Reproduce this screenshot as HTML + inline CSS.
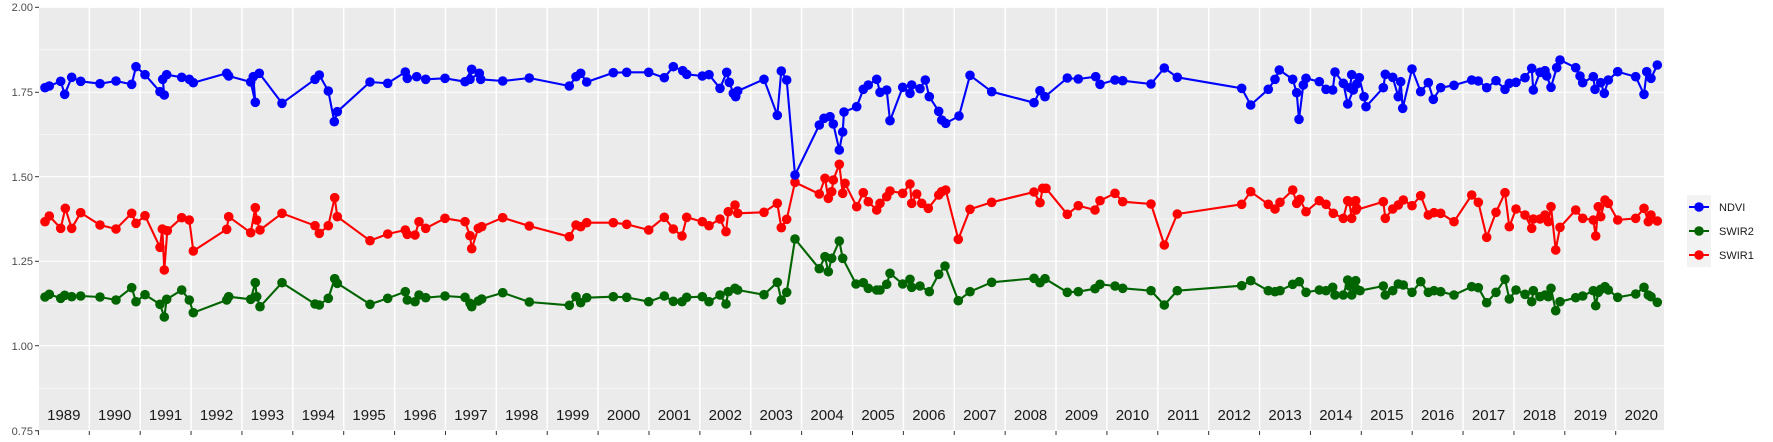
<!DOCTYPE html>
<html><head><meta charset="utf-8"><style>
html,body{margin:0;padding:0;background:#fff;}
svg{display:block;font-family:"Liberation Sans",sans-serif;}
</style></head><body>
<svg id="s" width="1773" height="442" viewBox="0 0 1773 442" xmlns="http://www.w3.org/2000/svg">
<rect x="39" y="7" width="1625" height="424" fill="#ebebeb"/>
<g id="grid"></g>
<g font-size="11" fill="#4d4d4d" text-anchor="end">
<text x="33" y="11">2.00</text>
<text x="33" y="96">1.75</text>
<text x="33" y="181">1.50</text>
<text x="33" y="265">1.25</text>
<text x="33" y="350">1.00</text>
<text x="33" y="435">0.75</text>
</g>
<g font-size="15" fill="#1a1a1a" text-anchor="middle" id="years">
<text x="63.8" y="420">1989</text><text x="114.7" y="420">1990</text><text x="165.6" y="420">1991</text><text x="216.5" y="420">1992</text><text x="267.4" y="420">1993</text><text x="318.3" y="420">1994</text><text x="369.1" y="420">1995</text><text x="420.0" y="420">1996</text><text x="470.9" y="420">1997</text><text x="521.8" y="420">1998</text><text x="572.7" y="420">1999</text><text x="623.6" y="420">2000</text><text x="674.4" y="420">2001</text><text x="725.3" y="420">2002</text><text x="776.2" y="420">2003</text><text x="827.1" y="420">2004</text><text x="878.0" y="420">2005</text><text x="928.9" y="420">2006</text><text x="979.8" y="420">2007</text><text x="1030.6" y="420">2008</text><text x="1081.5" y="420">2009</text><text x="1132.4" y="420">2010</text><text x="1183.3" y="420">2011</text><text x="1234.2" y="420">2012</text><text x="1285.1" y="420">2013</text><text x="1335.9" y="420">2014</text><text x="1386.8" y="420">2015</text><text x="1437.7" y="420">2016</text><text x="1488.6" y="420">2017</text><text x="1539.5" y="420">2018</text><text x="1590.4" y="420">2019</text><text x="1641.3" y="420">2020</text>
</g>
<g id="data"></g>
<rect x="1680" y="190" width="38" height="80" fill="#fff"/>
<rect x="1687" y="195" width="24" height="72" fill="#f2f2f2"/>
<line x1="1689" y1="207" x2="1709" y2="207" stroke="#0000ff" stroke-width="2"/><circle cx="1699" cy="207" r="4.8" fill="#0000ff"/>
<line x1="1689" y1="231" x2="1709" y2="231" stroke="#006400" stroke-width="2"/><circle cx="1699" cy="231" r="4.8" fill="#006400"/>
<line x1="1689" y1="255" x2="1709" y2="255" stroke="#ff0000" stroke-width="2"/><circle cx="1699" cy="255" r="4.8" fill="#ff0000"/>
<g font-size="11" fill="#1a1a1a">
<text x="1719" y="211">NDVI</text>
<text x="1719" y="235">SWIR2</text>
<text x="1719" y="259">SWIR1</text>
</g>
</svg>
<script>
var NS="http://www.w3.org/2000/svg";
function el(t,a,p){var e=document.createElementNS(NS,t);for(var k in a)e.setAttribute(k,a[k]);p.appendChild(e);return e;}
var g=document.getElementById('grid');
var ys=[7.3,92.3,176.7,261.3,345.7,430.7];
for(var i=0;i<ys.length-1;i++){var m=(ys[i]+ys[i+1])/2;el('line',{x1:39,x2:1664,y1:m,y2:m,stroke:'#fff','stroke-width':0.6},g);}
ys.forEach(function(y){el('line',{x1:39,x2:1664,y1:y,y2:y,stroke:'#fff','stroke-width':1.2},g);el('line',{x1:35,x2:39,y1:y,y2:y,stroke:'#333','stroke-width':1},g);});
for(var yr=1989;yr<=2020;yr++){var x=89.3+(yr-1990)*50.88;if(yr>1989)el('line',{x1:x,x2:x,y1:7,y2:431,stroke:'#fff','stroke-width':1.5},g);el('line',{x1:x,x2:x,y1:431,y2:435,stroke:'#333','stroke-width':1},g);}
var Z={
b:[[30,[[45,143],[58,138],[92,124],[104,163],[125,112],[152,124],[210,131],[258,123],[305,133],[318,80],[345,104],[390,155],[403,165],[398,118],[410,104],[455,112],[478,118],[490,128],[590,100],[596,108],[662,126],[676,187],[670,110],[688,100],[756,190]]],
[300,[[45,118],[58,105],[85,153],[103,245],[112,215],[210,126],[263,130],[316,96],[322,115],[350,110],[377,118],[435,115],[495,125],[515,88],[510,118],[538,100],[542,118],[608,123],[688,114],[808,138]]],
[570,[[18,110],[32,100],[50,126],[130,98],[170,97],[236,97],[283,113],[310,80],[338,92],[350,103],[397,108],[417,104],[450,145],[470,97],[478,127],[490,160],[497,170],[503,153],[582,118],[622,226],[634,93],[650,120],[675,405],[748,255],[762,235],[780,230],[790,252],[808,330]]],
[840,[[8,276],[12,216],[50,200],[70,148],[85,135],[110,118],[120,157],[140,150],[150,242],[188,142],[210,160],[215,135],[240,146],[256,120],[268,170],[296,214],[305,240],[317,250],[357,228],[390,106],[455,155],[582,188],[600,152],[615,170],[682,114],[715,117],[767,110],[780,133]]],
[1110,[[15,120],[38,122],[123,132],[163,84],[202,112],[395,145],[422,195],[475,148],[495,118],[508,90],[548,118],[560,158],[567,238],[580,135],[588,115],[628,125],[648,148],[668,150],[675,96],[700,130],[713,192],[730,150],[740,132]]],
[1380,[[-90,143],[-85,104],[-62,113],[-48,170],[-42,200],[10,143],[16,103],[38,112],[55,170],[62,125],[68,205],[96,87],[122,155],[145,128],[160,178],[182,143],[222,136],[275,120],[295,123],[320,143],[348,122],[375,148],[388,130],[408,127],[435,113],[455,85],[460,150],[480,97],[495,92],[500,108],[513,142],[530,83],[540,60],[587,83],[600,108],[608,128],[640,110],[645,148],[662,128],[673,160],[685,120],[713,95],[767,110],[792,163],[800,95],[813,115],[832,75]]]],
r:[[30,[[45,545],[58,528],[92,565],[106,505],[125,565],[152,518],[210,555],[258,567],[305,520],[318,550],[345,527],[390,622],[397,567],[403,690],[412,572],[455,533],[478,540],[490,633],[590,568],[596,530],[662,578],[676,503],[680,540],[690,570],[756,520]]],
[300,[[45,557],[58,580],[85,557],[104,473],[112,530],[210,602],[263,582],[316,570],[322,583],[345,585],[357,545],[377,565],[435,535],[495,545],[510,587],[515,626],[535,565],[545,560],[608,533],[688,558],[808,590]]],
[570,[[18,555],[32,560],[50,548],[130,548],[170,553],[236,570],[283,532],[310,567],[336,588],[350,532],[397,545],[417,557],[450,537],[468,575],[475,515],[495,495],[503,520],[582,517],[622,490],[634,563],[650,538],[675,427],[748,462],[765,415],[775,475],[785,455],[790,420],[808,373]]],
[840,[[8,460],[15,430],[50,500],[70,458],[85,485],[110,510],[120,490],[140,470],[150,453],[188,460],[210,432],[215,490],[230,462],[245,490],[265,505],[296,465],[305,455],[317,450],[355,598],[390,508],[455,487],[582,456],[600,488],[608,445],[618,445],[682,523],[715,497],[765,510],[780,482]]],
[1110,[[15,460],[38,485],[123,492],[163,615],[202,522],[395,493],[422,455],[475,493],[495,507],[510,487],[548,450],[560,490],[570,478],[588,515],[628,482],[648,493],[670,520],[700,535],[713,482],[737,482],[740,505]]],
[1380,[[-92,485],[-85,535],[-72,510],[10,485],[16,535],[38,507],[55,495],[70,480],[96,497],[122,467],[145,525],[162,518],[182,520],[222,545],[275,465],[295,487],[320,592],[348,517],[375,458],[388,560],[408,507],[435,525],[455,565],[460,537],[480,537],[495,525],[505,545],[513,500],[527,630],[540,562],[587,510],[608,535],[640,540],[647,588],[655,500],[662,530],[675,480],[685,490],[713,540],[767,535],[792,505],[805,545],[813,525],[832,543]]]],
g:[[30,[[45,771],[58,763],[92,775],[104,766],[125,770],[152,768],[210,771],[258,780],[305,743],[318,785],[345,764],[390,793],[403,831],[410,778],[455,750],[478,780],[490,818],[590,780],[596,770],[662,778],[676,728],[680,770],[690,800],[756,728]]],
[300,[[45,792],[58,795],[85,775],[104,716],[112,730],[210,793],[263,775],[316,755],[322,780],[345,785],[357,765],[377,773],[435,768],[495,772],[510,790],[515,800],[535,783],[545,777],[608,758],[688,786],[808,796]]],
[570,[[18,770],[32,788],[50,773],[130,770],[170,772],[236,785],[283,768],[310,784],[336,785],[350,772],[397,770],[417,785],[450,765],[468,792],[475,755],[495,745],[503,750],[582,764],[622,727],[634,780],[650,757],[675,597],[748,686],[765,650],[775,695],[785,655],[808,603]]],
[840,[[8,655],[48,732],[70,728],[85,745],[110,750],[120,750],[140,733],[150,700],[188,732],[210,718],[215,742],[240,738],[268,755],[296,703],[315,678],[355,782],[390,755],[455,727],[582,715],[600,728],[615,716],[682,757],[715,755],[765,746],[780,733]]],
[1110,[[15,738],[38,745],[123,752],[163,795],[202,752],[395,737],[422,722],[475,752],[495,755],[510,752],[548,733],[568,725],[588,757],[628,750],[648,752],[668,742],[675,765],[700,765],[713,720],[737,722],[740,748]]],
[1380,[[-92,738],[-85,765],[-60,752],[10,738],[16,765],[38,752],[55,732],[70,735],[96,757],[122,725],[145,757],[162,752],[182,755],[222,765],[275,740],[295,743],[320,788],[348,757],[375,718],[388,777],[408,750],[435,763],[455,785],[460,752],[480,770],[495,765],[505,770],[513,745],[527,812],[540,785],[587,773],[608,768],[640,752],[647,797],[655,757],[662,748],[675,740],[685,750],[713,772],[767,762],[792,742],[805,765],[813,770],[832,787]]]]
};
var col={b:'#0000ff',r:'#ff0000',g:'#006400'};
var d=document.getElementById('data');
['g','r','b'].forEach(function(k){
 var pts=[];Z[k].forEach(function(z){z[1].forEach(function(p){pts.push([z[0]+p[0]/3,40+p[1]/3]);});});
 el('polyline',{points:pts.map(function(p){return p[0].toFixed(1)+','+p[1].toFixed(1);}).join(' '),fill:'none',stroke:col[k],'stroke-width':2.1,'stroke-linejoin':'round'},d);
 pts.forEach(function(p){el('circle',{cx:p[0].toFixed(1),cy:p[1].toFixed(1),r:4.8,fill:col[k]},d);});
});
</script>
</body></html>
